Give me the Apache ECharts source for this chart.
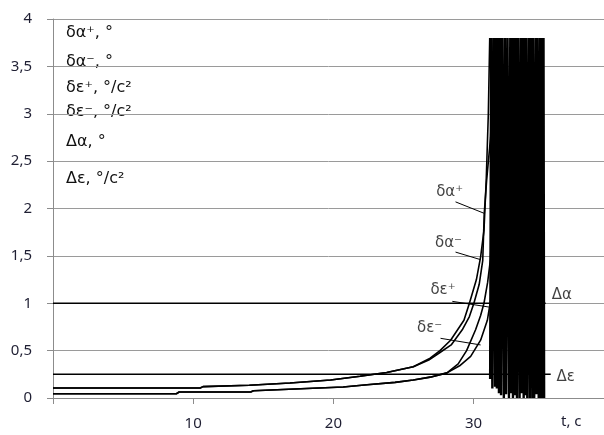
<!DOCTYPE html>
<html>
<head>
<meta charset="utf-8">
<script src="https://cdn.jsdelivr.net/npm/echarts@6/dist/echarts.min.js"></script>
<style>
html, body { margin: 0; padding: 0; background: #fff; }
#chart { width: 604px; height: 435px; }
</style>
</head>
<body>
<div id="chart"></div>
<script>
// tick labels (decimal comma, as in the original)
var yLabels = ['0', '0,5', '1', '1,5', '2', '2,5', '3', '3,5', '4'];
var xLabels = ['', '10', '20', '30', ''];

// curves, [t, value]
var dAlphaMinus = [[0, 0.105], [10.5, 0.105], [10.7, 0.12], [14, 0.135], [16.9, 0.158], [19.8, 0.19], [21.9, 0.23], [23.8, 0.27], [25.7, 0.33], [26.9, 0.42], [27.6, 0.5], [28.36, 0.61], [29.31, 0.82], [29.7, 1.0], [30.2, 1.25], [30.5, 1.49], [30.74, 1.77], [30.9, 2.3], [31.05, 3.0], [31.15, 3.8]];
var dAlphaPlus = [[0, 0.105], [10.5, 0.105], [10.7, 0.12], [14, 0.135], [16.9, 0.158], [19.8, 0.19], [21.9, 0.23], [23.8, 0.27], [25.7, 0.33], [26.8, 0.4], [27.6, 0.48], [28.4, 0.56], [29.19, 0.72], [29.7, 0.86], [30.02, 1.0], [30.4, 1.2], [30.65, 1.45], [30.76, 1.95], [30.93, 2.3], [31.21, 2.75], [31.35, 3.3], [31.42, 3.8]];
var dEpsPlus = [[0, 0.045], [8.8, 0.045], [9.0, 0.063], [14.1, 0.063], [14.3, 0.077], [18.1, 0.1], [20.7, 0.116], [22.4, 0.14], [24.4, 0.165], [25.7, 0.19], [26.9, 0.22], [28.1, 0.265], [28.9, 0.36], [29.5, 0.5], [30.14, 0.72], [30.5, 0.87], [30.74, 1.0], [31.0, 1.22], [31.2, 1.46], [31.32, 1.9]];
var dEpsMinus = [[0, 0.045], [8.8, 0.045], [9.0, 0.063], [14.1, 0.063], [14.3, 0.077], [18.1, 0.1], [20.7, 0.116], [22.4, 0.14], [24.4, 0.165], [25.7, 0.19], [26.9, 0.22], [28.1, 0.265], [29.0, 0.34], [29.79, 0.44], [30.5, 0.61], [30.98, 0.82], [31.21, 1.03], [31.35, 1.4]];
var deltaAlpha = [[0, 1], [35.14, 1]];
var deltaEps = [[0, 0.25], [35.5, 0.25]];

// oscillation after loss of stability (clipped at 3.8)
var band = [[31.179, 0.2], [31.25, 3.8], [31.336, 0.1], [31.429, 3.8], [31.529, 0.12], [31.593, 3.8], [31.657, 0.1], [31.721, 3.8], [31.807, 0.05], [31.893, 3.8],
  [31.957, 0.03], [32.057, 3.8], [32.157, 0], [32.243, 3.8], [32.314, 0.04], [32.421, 3.8], [32.521, 0], [32.614, 3.8], [32.679, 0.05], [32.743, 3.8],
  [32.807, 0], [32.843, 3.8], [32.929, 0.03], [33.014, 3.8], [33.093, 0], [33.186, 3.8], [33.279, 0], [33.371, 3.8], [33.443, 0.05], [33.507, 3.8],
  [33.571, 0], [33.636, 3.8], [33.7, 0.03], [33.736, 3.8], [33.829, 0], [33.921, 3.8], [34.014, 0], [34.093, 3.8], [34.193, 0], [34.229, 3.8],
  [34.321, 0], [34.414, 3.8], [34.479, 0.04], [34.557, 3.8], [34.643, 0], [34.736, 3.8], [34.8, 0], [34.864, 3.8], [34.929, 0], [34.986, 3.8], [35.029, 0]];

// annotations
var curveNames = ['δα⁺', 'δα⁻', 'δε⁺', 'δε⁻', 'Δα', 'Δε'];
var namePos = [[28.29, 2.17], [28.21, 1.64], [27.82, 1.14], [26.86, 0.74], [36.29, 1.09], [36.57, 0.22]];
var leaders = [
  [[28.71, 2.07], [30.74, 1.95]],
  [[28.71, 1.54], [30.5, 1.46]],
  [[28.48, 1.02], [31.09, 0.96]],
  [[27.64, 0.63], [30.5, 0.56]]
];
var legendLines = ['δα⁺, °', 'δα⁻, °', 'δε⁺, °/c²', 'δε⁻, °/c²', 'Δα, °', 'Δε, °/c²'];
var legendTop = [25, 54, 80, 104, 134, 171];

var chart = echarts.init(document.getElementById('chart'));

var black = '#000';
function curve(data, w) {
  return {
    type: 'line', data: data, symbol: 'none', silent: true,
    lineStyle: { color: black, width: w || 1.6 }
  };
}

var labelFont = 'DejaVu Sans';
var graphics = legendLines.map(function (s, i) {
  return {
    type: 'text', left: 66, top: legendTop[i],
    style: { text: s, font: '16px "DejaVu Sans"', fill: '#111' }
  };
});
graphics.push({
  type: 'text', left: 561, top: 414,
  style: { text: 't, c', font: '15px "Noto Sans"', fill: '#1f1f33' }
});

chart.setOption({
  animation: false,
  grid: { left: 53, right: 0, top: 19, bottom: 37 },
  xAxis: {
    type: 'value', min: 0, max: 39.3, interval: 10,
    axisLine: { lineStyle: { color: '#8c8c8c' } },
    axisTick: { show: true, length: 6, lineStyle: { color: '#8c8c8c' } },
    splitLine: { show: false },
    axisLabel: {
      margin: 18, color: '#1f1f33', fontSize: 15, fontFamily: 'Noto Sans',
      showMaxLabel: false,
      formatter: function (v) { return xLabels[Math.round(v / 10)] || ''; }
    }
  },
  yAxis: {
    type: 'value', min: 0, max: 4, interval: 0.5,
    axisLine: { show: true, lineStyle: { color: '#8c8c8c' } },
    axisTick: { show: true, length: 6, lineStyle: { color: '#8c8c8c' } },
    splitLine: { show: true, lineStyle: { color: '#9a9a9a', width: 1, type: 'solid' } },
    axisLabel: {
      margin: 21, color: '#1f1f33', fontSize: 15, fontFamily: 'Noto Sans',
      formatter: function (v) { return yLabels[Math.round(v / 0.5)]; }
    }
  },
  graphic: graphics,
  series: [
    curve(deltaAlpha, 1.6),
    curve(deltaEps, 1.6),
    curve(dEpsPlus),
    curve(dEpsMinus),
    curve(dAlphaPlus),
    curve(dAlphaMinus),
    curve(band, 2.4),
    {
      type: 'lines', coordinateSystem: 'cartesian2d', silent: true,
      lineStyle: { color: black, width: 1, opacity: 1 },
      data: leaders.map(function (c) { return { coords: c }; })
    },
    {
      type: 'scatter', symbolSize: 0, silent: true,
      data: namePos.map(function (p, i) { return { name: curveNames[i], value: p }; }),
      label: {
        show: true, position: 'inside', color: '#111',
        fontSize: 15, fontFamily: labelFont,
        formatter: function (p) { return p.name; }
      }
    }
  ]
});
</script>
</body>
</html>
